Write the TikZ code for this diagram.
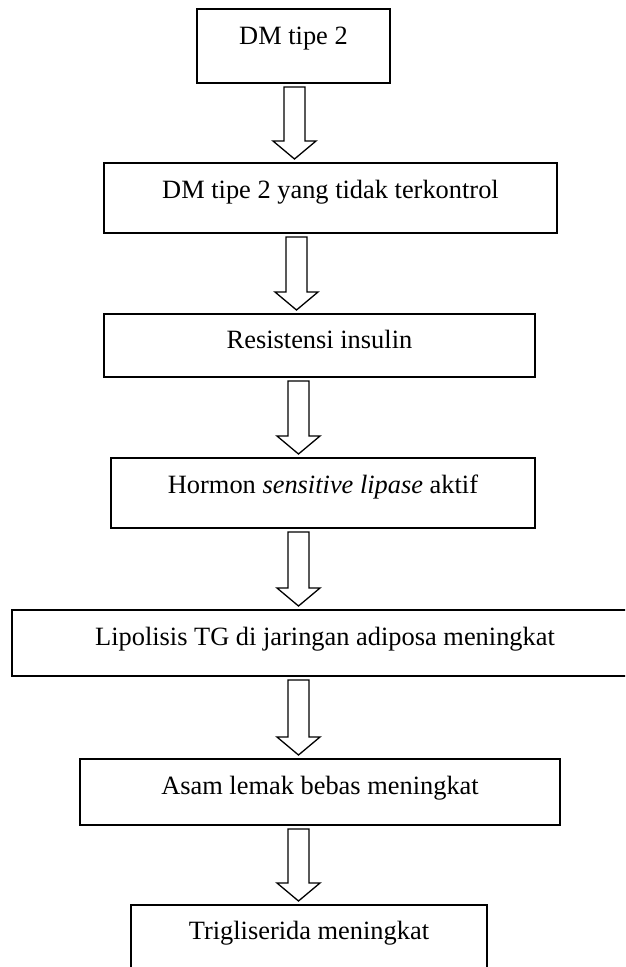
\documentclass[tikz,border=0pt]{standalone}
\usepackage{fontspec}
\setmainfont{Liberation Serif}
\usetikzlibrary{calc}
\tikzset{
  flowbox/.style={draw, line width=1.3pt, inner sep=0pt, outer sep=0pt, rectangle},
  flowtext/.style={anchor=base, inner sep=0pt, font=\fontsize{26.4}{30}\selectfont},
  blockarr/.style={draw, line width=1.3pt, fill=white, line join=miter},
}
\newcommand{\blockarrow}[3]{%
  \draw[blockarr] let \p1=(#1.south), \p2=(#2.north) in
    (#3pt-10.5pt, \y1-4pt) -- (#3pt+10.5pt, \y1-4pt) -- (#3pt+10.5pt, \y2+22pt)
    -- (#3pt+21.5pt, \y2+22pt) -- (#3pt, \y2+4pt) -- (#3pt-21.5pt, \y2+22pt)
    -- (#3pt-10.5pt, \y2+22pt) -- cycle;}
\begin{document}
\begin{tikzpicture}[x=1pt, y=-1pt]
\useasboundingbox (0,0) rectangle (625,967);
\clip (0,0) rectangle (625,967);
% boxes
\node[flowbox, minimum width=193pt, minimum height=74pt] (b1) at (293.5,46) {};
\node[flowbox, minimum width=453pt, minimum height=70pt] (b2) at (330.5,198) {};
\node[flowbox, minimum width=431pt, minimum height=63pt] (b3) at (319.5,345.5) {};
\node[flowbox, minimum width=424pt, minimum height=70pt] (b4) at (323,493) {};
\node[flowbox, minimum width=626pt, minimum height=66pt] (b5) at (325,643) {};
\node[flowbox, minimum width=480pt, minimum height=66pt] (b6) at (320,792) {};
\node[flowbox, minimum width=356pt, minimum height=74pt] (b7) at (309,942) {};
% texts
\node[flowtext] (t1) at ($(b1.north)+(0,35)$) {DM tipe 2};
\node[flowtext] (t2) at ($(b2.north)+(0,35)$) {DM tipe 2 yang tidak terkontrol};
\node[flowtext] (t3) at ($(b3.north)+(0,34)$) {Resistensi insulin};
\node[flowtext] (t4) at ($(b4.north)+(0,35)$) {Hormon \textit{sensitive lipase} aktif};
\node[flowtext] (t5) at ($(b5.north)+(0,35)$) {Lipolisis TG di jaringan adiposa meningkat};
\node[flowtext] (t6) at ($(b6.north)+(0,35)$) {Asam lemak bebas meningkat};
\node[flowtext] (t7) at ($(b7.north)+(0,34)$) {Trigliserida meningkat};
% block arrows
\blockarrow{b1}{b2}{294.5}
\blockarrow{b2}{b3}{296.5}
\blockarrow{b3}{b4}{298.5}
\blockarrow{b4}{b5}{298.5}
\blockarrow{b5}{b6}{298.5}
\blockarrow{b6}{b7}{298.5}
\end{tikzpicture}
\end{document}
